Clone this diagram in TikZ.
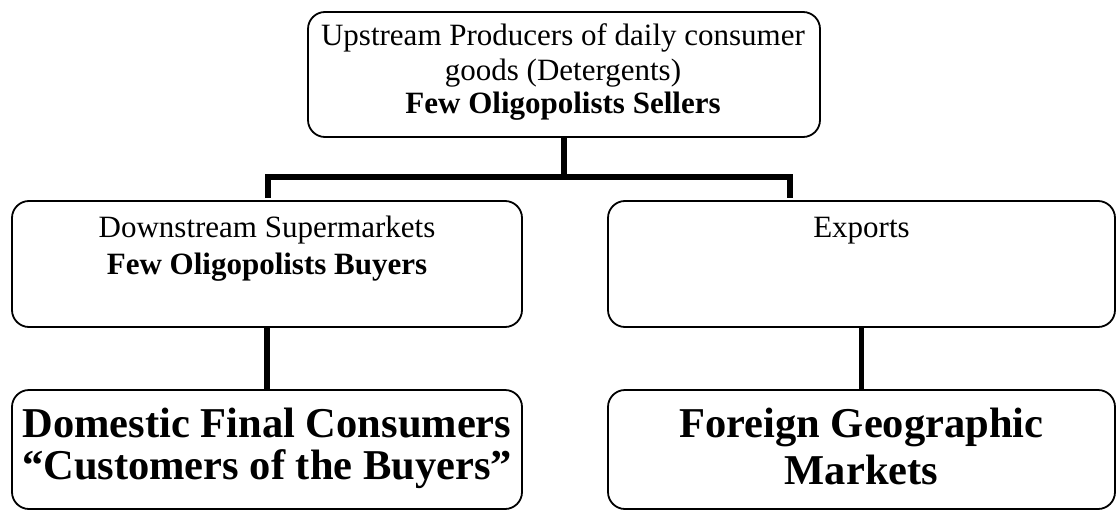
\documentclass[tikz,border=0pt]{standalone}
\usepackage{fontspec}
\setmainfont{Liberation Serif}
\begin{document}
\begin{tikzpicture}[x=1pt,y=-1pt,
  boxnode/.style={draw,line width=1.8pt,rounded corners=17pt,inner sep=0pt,rectangle},
  conn/.style={line width=5.5pt},
  smalltxt/.style={anchor=base,inner sep=0pt,font=\fontsize{31}{36}\selectfont},
  bigtxt/.style={anchor=base,inner sep=0pt,font=\fontsize{42.5}{46}\selectfont\bfseries}]
\useasboundingbox (0,0) rectangle (1118,511);
% boxes
\node[boxnode,minimum width=512pt,minimum height=125pt] (top) at (564,74.5) {};
\node[boxnode,minimum width=510pt,minimum height=126pt] (dsm) at (267,264) {};
\node[boxnode,minimum width=507pt,minimum height=126pt] (exp) at (861.5,264) {};
\node[boxnode,minimum width=510pt,minimum height=119pt] (dom) at (267,449.5) {};
\node[boxnode,minimum width=507pt,minimum height=119pt] (for) at (861.5,449.5) {};
% texts
\node[smalltxt] (t1) at (563,46) {Upstream Producers of daily consumer};
\node[smalltxt] (t2) at (563,80) {goods (Detergents)};
\node[smalltxt] (t3) at (563,113) {\bfseries Few Oligopolists Sellers};
\node[smalltxt] (d1) at (267,237) {Downstream Supermarkets};
\node[smalltxt] (d2) at (267,274) {\bfseries Few Oligopolists Buyers};
\node[smalltxt] (e1) at (861.5,237) {Exports};
\node[bigtxt] (c1) at (267,437) {Domestic Final Consumers};
\node[bigtxt] (c2) at (267,479) {“Customers of the Buyers”};
\node[bigtxt] (f1) at (861.5,437) {Foreign Geographic};
\node[bigtxt] (f2) at (861.5,484) {Markets};
% connectors
\coordinate (junc) at (564,177);
\coordinate (barL) at (268,177);
\coordinate (barR) at (790,177);
\coordinate (dropL) at (268,198);
\coordinate (dropR) at (790,198);
\draw[conn] (top.south) -- (junc);
\draw[conn] (dropL) -- (barL) -- (barR) -- (dropR);
\draw[conn] (dsm.south) -- (dom.north);
\draw[conn] (exp.south) -- (for.north);
\end{tikzpicture}
\end{document}
